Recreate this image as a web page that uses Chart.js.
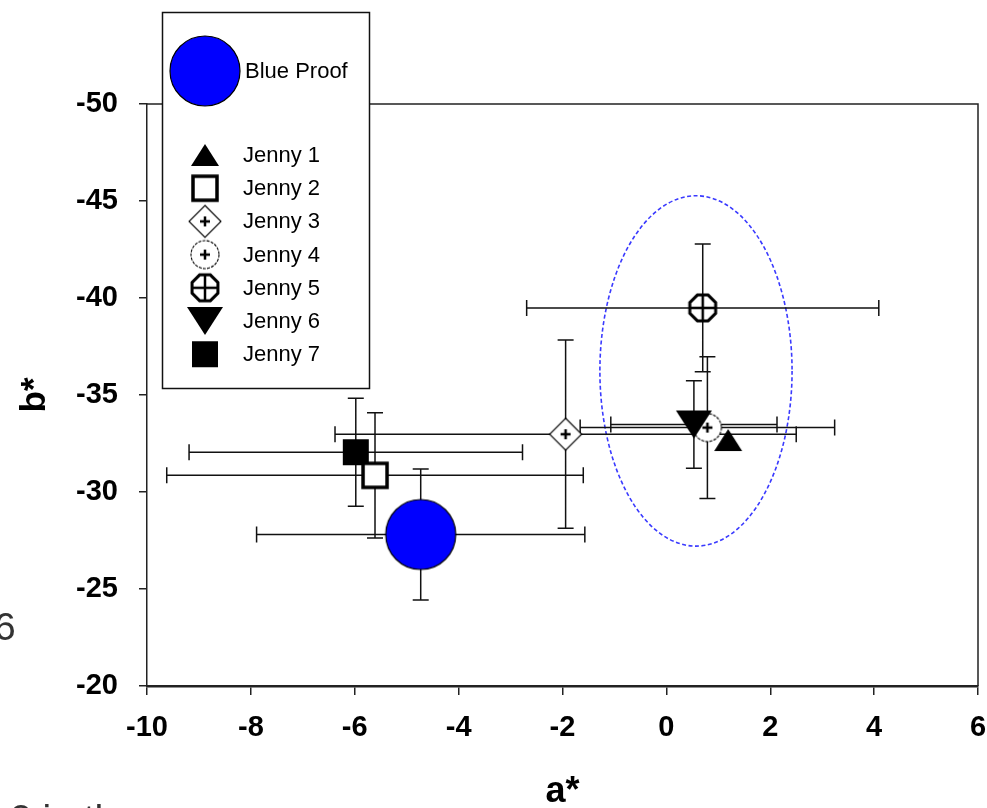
<!DOCTYPE html>
<html>
<head>
<meta charset="utf-8">
<title>a* b* scatter</title>
<script src="https://cdn.jsdelivr.net/npm/chart.js@4.4.1/dist/chart.umd.min.js"></script>
<style>
  html, body { margin: 0; padding: 0; background: #fff; overflow: hidden; }
  #wrap { position: relative; width: 987px; height: 808px; }
  #chart { position: absolute; left: 0; top: 0; }
  .doc { position: absolute; font-family: "Liberation Sans", Arial, sans-serif; font-size: 39px; line-height: 39px; color: #333; white-space: nowrap; }
</style>
</head>
<body>
<div id="wrap">
  <canvas id="chart" width="987" height="808"></canvas>
  <div class="doc" style="left:-6px; top:607px;">6</div>
  <div class="doc" style="left:10px; top:799px;">2 in th</div>
</div>
<script>
// Colour samples: a* / b* means with standard deviations

const seriesNames = ['Blue Proof', 'Jenny 1', 'Jenny 2', 'Jenny 3', 'Jenny 4', 'Jenny 5', 'Jenny 6', 'Jenny 7'];
const aValues = [-4.73, 1.19, -5.61, -1.94, 0.79, 0.70, 0.53, -5.98];
const bValues = [-27.81, -32.68, -30.86, -32.98, -33.32, -39.49, -33.48, -32.05];
const aErrors = [3.16, 0, 4.01, 4.44, 2.45, 3.39, 1.60, 3.21];
const bErrors = [3.38, 0, 3.23, 4.85, 3.65, 3.29, 2.26, 2.78];
const markerKinds = ['bigCircle', 'triUp', 'openSquare', 'diamondPlus', 'circlePlus', 'octCross', 'triDown', 'filledSquare'];

// axis ranges
const xMin = -10, xMax = 6, xStep = 2;
const yMin = -50, yMax = -20, yStep = 5;

// dashed region around the Jenny cluster (a*, b*)
const ellipseCenter = [0.57, -36.24];
const ellipseRadii = [1.85, 9.03];

const FONT = '"Liberation Sans", Arial, sans-serif';

function makeMarker(kind) {
  const size = kind === 'bigCircle' ? 76 : 44;
  const c = document.createElement('canvas');
  c.width = size;
  c.height = size;
  const g = c.getContext('2d');
  const m = size / 2;
  g.strokeStyle = '#000';
  g.fillStyle = '#000';
  g.beginPath();
  switch (kind) {
    case 'bigCircle':
      g.arc(m, m, 35, 0, Math.PI * 2);
      g.fillStyle = '#0000ff';
      g.fill();
      g.lineWidth = 1.2;
      g.stroke();
      break;
    case 'triUp':
      g.moveTo(m, m - 11);
      g.lineTo(m + 14, m + 11);
      g.lineTo(m - 14, m + 11);
      g.closePath();
      g.fill();
      break;
    case 'triDown':
      g.moveTo(m - 18, m - 14);
      g.lineTo(m + 18, m - 14);
      g.lineTo(m, m + 14);
      g.closePath();
      g.fill();
      break;
    case 'filledSquare':
      g.fillRect(m - 13, m - 13, 26, 26);
      break;
    case 'openSquare':
      g.fillStyle = '#fff';
      g.fillRect(m - 12, m - 12, 24, 24);
      g.lineWidth = 3.5;
      g.strokeRect(m - 12, m - 12, 24, 24);
      break;
    case 'diamondPlus':
      g.moveTo(m, m - 16);
      g.lineTo(m + 16, m);
      g.lineTo(m, m + 16);
      g.lineTo(m - 16, m);
      g.closePath();
      g.fillStyle = '#fff';
      g.fill();
      g.lineWidth = 1.1;
      g.stroke();
      plus(g, m, 5, 2.5);
      break;
    case 'circlePlus':
      g.arc(m, m, 14, 0, Math.PI * 2);
      g.fillStyle = '#fff';
      g.fill();
      g.lineWidth = 1.1;
      g.setLineDash([3, 1.2]);
      g.stroke();
      g.setLineDash([]);
      plus(g, m, 5, 2.5);
      break;
    case 'octCross':
      for (let k = 0; k < 8; k++) {
        const t = Math.PI / 8 + k * Math.PI / 4;
        const px = m + 14 * Math.cos(t), py = m + 14 * Math.sin(t);
        if (k === 0) g.moveTo(px, py); else g.lineTo(px, py);
      }
      g.closePath();
      g.fillStyle = '#fff';
      g.fill();
      g.lineWidth = 3;
      g.stroke();
      plus(g, m, 13, 2.5);
      break;
  }
  return c;
}

function plus(g, m, r, w) {
  g.beginPath();
  g.lineWidth = w;
  g.moveTo(m - r, m);
  g.lineTo(m + r, m);
  g.moveTo(m, m - r);
  g.lineTo(m, m + r);
  g.stroke();
}

const markers = markerKinds.map(makeMarker);

const regionPlugin = {
  id: 'region',
  beforeDatasetsDraw(chart) {
    const { ctx, scales: { x, y } } = chart;
    const cx = x.getPixelForValue(ellipseCenter[0]);
    const cy = y.getPixelForValue(ellipseCenter[1]);
    const rx = Math.abs(x.getPixelForValue(ellipseCenter[0] + ellipseRadii[0]) - cx);
    const ry = Math.abs(y.getPixelForValue(ellipseCenter[1] + ellipseRadii[1]) - cy);
    ctx.save();
    ctx.strokeStyle = '#3a3aff';
    ctx.lineWidth = 1.6;
    ctx.setLineDash([4, 2.5]);
    ctx.beginPath();
    ctx.ellipse(cx, cy, rx, ry, 0, 0, Math.PI * 2);
    ctx.stroke();
    ctx.restore();
  }
};

const errorBarPlugin = {
  id: 'errorBars',
  beforeDatasetsDraw(chart) {
    const { ctx, scales: { x, y } } = chart;
    const cap = 8;
    ctx.save();
    ctx.strokeStyle = '#111';
    ctx.lineWidth = 1.5;
    ctx.beginPath();
    aValues.forEach((a, i) => {
      const b = bValues[i];
      const px = x.getPixelForValue(a);
      const py = y.getPixelForValue(b);
      if (aErrors[i]) {
        const l = x.getPixelForValue(a - aErrors[i]);
        const r = x.getPixelForValue(a + aErrors[i]);
        ctx.moveTo(l, py); ctx.lineTo(r, py);
        ctx.moveTo(l, py - cap); ctx.lineTo(l, py + cap);
        ctx.moveTo(r, py - cap); ctx.lineTo(r, py + cap);
      }
      if (bErrors[i]) {
        const t = y.getPixelForValue(b - bErrors[i]);
        const u = y.getPixelForValue(b + bErrors[i]);
        ctx.moveTo(px, t); ctx.lineTo(px, u);
        ctx.moveTo(px - cap, t); ctx.lineTo(px + cap, t);
        ctx.moveTo(px - cap, u); ctx.lineTo(px + cap, u);
      }
    });
    ctx.stroke();
    ctx.restore();
  }
};

// top/right frame of the plot plus the boxed legend that sits over it
const frameLegendPlugin = {
  id: 'frameLegend',
  afterDraw(chart) {
    const { ctx, chartArea: area } = chart;
    ctx.save();
    ctx.strokeStyle = '#222';
    ctx.lineWidth = 1.5;
    ctx.beginPath();
    ctx.moveTo(area.left, area.top);
    ctx.lineTo(area.right, area.top);
    ctx.lineTo(area.right, area.bottom);
    ctx.stroke();

    // legend box
    ctx.fillStyle = '#fff';
    ctx.fillRect(162, 12, 207, 376);
    ctx.strokeStyle = '#111';
    ctx.strokeRect(162.5, 12.5, 207, 376);

    ctx.fillStyle = '#000';
    ctx.textBaseline = 'middle';
    ctx.textAlign = 'left';
    ctx.font = '22px ' + FONT;
    const mx = 205;
    seriesNames.forEach((name, i) => {
      const img = markers[i];
      const rowY = i === 0 ? 71 : 155 + (i - 1) * 33.2;
      ctx.drawImage(img, mx - img.width / 2, rowY - img.height / 2);
      ctx.fillText(name, i === 0 ? 245 : 243, rowY + 1);
    });
    ctx.restore();
  }
};

const datasets = seriesNames.map((name, i) => ({
  label: name,
  data: [{ x: aValues[i], y: bValues[i] }],
  pointStyle: markers[i],
  pointRadius: 12,
  pointHoverRadius: 12,
  order: name === 'Jenny 6' ? 3.5 : i
}));

const tickFont = { family: FONT, size: 29, weight: 'bold' };

new Chart(document.getElementById('chart'), {
  type: 'scatter',
  data: { datasets },
  plugins: [regionPlugin, errorBarPlugin, frameLegendPlugin],
  options: {
    responsive: false,
    animation: false,
    devicePixelRatio: 1,
    events: [],
    layout: { autoPadding: false, padding: { left: 0, top: 104, right: 9, bottom: 0 } },
    plugins: {
      legend: { display: false },
      tooltip: { enabled: false }
    },
    scales: {
      x: {
        type: 'linear',
        min: xMin,
        max: xMax,
        ticks: { stepSize: xStep, color: '#000', font: tickFont, padding: 16 },
        grid: { drawOnChartArea: false, drawTicks: true, tickLength: 9, color: '#222', lineWidth: 1.5 },
        border: { display: true, color: '#222', width: 2.5 },
        title: {
          display: true,
          text: 'a*',
          color: '#000',
          font: { family: FONT, size: 36, weight: 'bold', lineHeight: 0.9 },
          padding: 0
        },
        afterFit(scale) {
          scale.height = 122;
          scale.paddingLeft = 0;
          scale.paddingRight = 0;
        }
      },
      y: {
        type: 'linear',
        reverse: true,
        min: yMin,
        max: yMax,
        ticks: { stepSize: yStep, color: '#000', font: tickFont, padding: 21 },
        grid: { drawOnChartArea: false, drawTicks: true, tickLength: 8, color: '#222', lineWidth: 1.5 },
        border: { display: true, color: '#222', width: 1.5 },
        title: {
          display: true,
          text: 'b*',
          color: '#000',
          font: { family: FONT, size: 35, weight: 'bold', lineHeight: 1.2 },
          padding: { top: 14, bottom: 0 }
        },
        afterFit(scale) { scale.width = 147; }
      }
    }
  }
});
</script>
</body>
</html>
